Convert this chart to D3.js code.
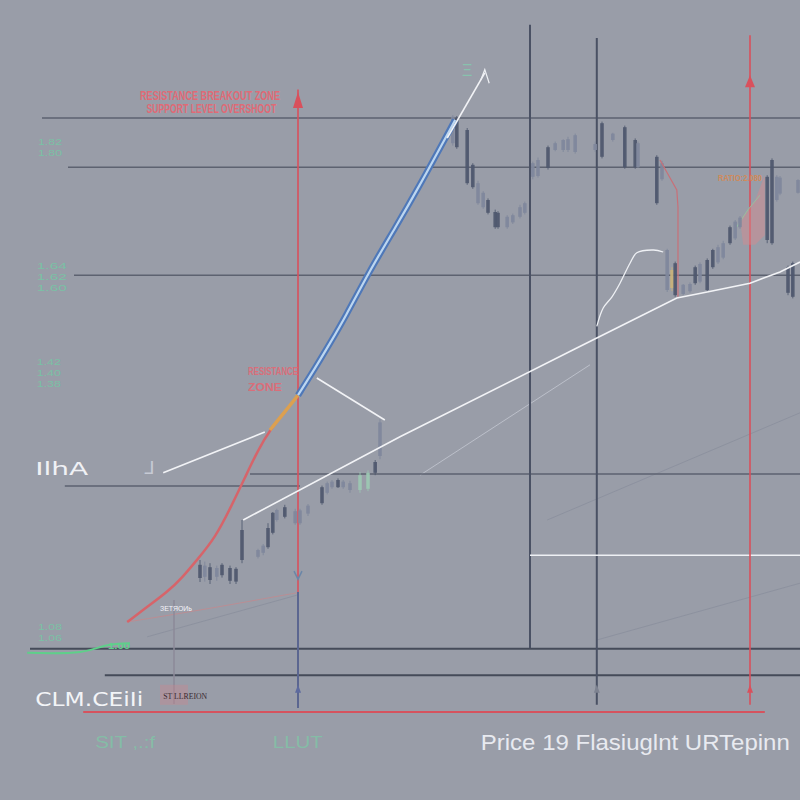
<!DOCTYPE html>
<html><head><meta charset="utf-8">
<script src="https://cdn.jsdelivr.net/npm/d3@7"></script>
<style>html,body{margin:0;padding:0;background:#999da8;}svg{display:block}</style>
</head><body>
<div id="chart"></div>
<script>
// ---- data (time index 0..100, price 0..100) ----
const curveT = [15.9, 18.75, 20.9, 22.75, 24.6, 26.9, 29.0, 30.6, 32.25, 33.75, 35.6, 37.25, 39.4, 41.25, 43.1, 46.25, 49.4, 52.5, 55.0, 56.9];
const curveP = [22.25, 24.4, 26.0, 27.75, 30.0, 32.75, 36.9, 40.25, 43.75, 46.25, 48.5, 50.6, 54.0, 57.1, 60.25, 66.25, 71.5, 76.9, 81.5, 85.0];

const candleT    = [25.0,25.6,26.25,27.1,27.75,28.75,29.5,30.25,32.25,32.9,33.5,34.1,34.6,35.6,36.9,37.5,38.5,40.25,40.9,41.5,42.25,42.9,43.75,45.0,46.0,46.9,47.5,
  56.6,57.1,58.4,59.1,59.75,60.4,61.0,61.9,62.25,63.4,64.1,65.0,65.6,66.6,67.25,68.5,69.4,70.4,71.0,71.9,74.4,75.25,76.6,78.1,79.4,79.75,82.1,82.75,
  83.4,84.0,84.4,85.4,86.25,86.9,87.5,88.4,89.1,89.75,90.4,91.25,91.9,92.5,95.9,96.5,97.1,97.5,98.5,99.1,99.75];
const candleHigh = [30.0,29.8,29.6,29.3,29.6,29.3,29.1,35.0,31.4,32.0,34.6,36.0,36.4,36.9,36.4,36.4,37.0,39.3,39.8,40.0,40.2,40.0,39.9,41.0,41.2,42.5,47.6,
  85.6,85.5,84.0,79.6,77.4,76.1,75.2,73.8,73.6,73.1,73.3,74.4,74.8,79.8,80.3,81.8,82.3,82.6,82.9,83.3,82.3,84.8,83.4,84.3,82.7,82.3,80.6,79.9,
  68.9,66.6,67.3,64.5,64.7,66.8,67.2,67.7,68.9,69.4,69.9,71.8,72.5,73.0,78.1,80.2,78.1,78.0,66.8,67.3,77.6];
const candleLow  = [27.25,27.3,27.0,27.4,27.8,27.0,27.0,29.6,30.2,30.6,31.4,33.2,34.8,35.2,34.4,34.4,35.5,36.9,38.2,38.9,39.0,38.9,38.4,38.4,38.6,40.6,42.6,
  81.8,81.4,76.9,76.4,74.4,73.9,73.2,71.4,71.4,71.4,72.0,72.7,73.2,77.6,77.8,78.8,81.1,81.0,81.0,80.8,81.0,80.2,82.3,78.9,78.9,79.0,74.4,77.4,
  63.5,63.6,62.9,63.1,63.4,64.4,64.6,63.6,66.4,67.0,67.6,69.4,70.0,71.4,69.6,69.4,74.8,75.6,63.1,62.7,75.8];
const candleTop  = [29.4,29.3,29.1,29.0,29.4,29.0,28.9,33.75,31.25,31.8,34.0,35.9,36.25,36.6,36.1,36.2,36.8,39.1,39.6,39.8,40.0,39.8,39.6,40.6,40.9,42.25,47.2,
  85.4,85.25,83.75,79.4,77.1,75.9,75.0,73.5,73.4,72.9,73.1,74.1,74.6,79.6,80.0,81.6,82.1,82.5,82.6,83.1,82.0,84.6,83.3,84.1,82.5,82.1,80.4,79.6,
  68.75,66.25,67.1,64.4,64.5,66.6,67.0,67.5,68.75,69.1,69.6,71.6,72.3,72.8,77.9,80.0,77.9,77.8,66.6,67.1,77.5];
const candleBot  = [27.75,27.9,27.5,27.9,28.1,27.4,27.3,30.0,30.4,30.9,31.6,33.4,35.0,35.4,34.6,34.6,35.8,37.1,38.4,39.1,39.1,39.1,38.75,38.75,38.9,40.9,43.0,
  82.1,81.6,77.1,76.6,74.6,74.1,73.4,71.6,71.6,71.6,72.2,72.9,73.4,77.9,78.0,79.0,81.25,81.25,81.25,81.0,81.25,80.4,82.5,79.1,79.1,79.1,74.6,77.6,
  63.75,64.0,63.1,63.25,63.6,64.6,64.8,63.75,66.6,67.2,67.8,69.6,70.2,71.6,70.0,69.6,75.0,75.8,63.4,62.9,75.9];
const candleKind = ["d","l","d","l","d","d","d","d","l","l","d","d","l","d","l","l","l","d","l","l","d","l","l","g","g","d","l",
  "l","d","d","d","l","l","d","d","d","l","l","l","l","l","l","d","l","l","l","l","l","d","l","d","d","l","d","l",
  "l","y","d","l","l","d","l","d","d","l","l","d","l","l","d","d","l","l","d","d","l"];

// horizontal levels (price) with start/end time
const hLevel = [85.25, 79.1, 65.6, 39.25, 40.75, 18.9, 15.6];
const hFrom  = [5.25, 8.5, 9.25, 8.1, 31.25, 3.75, 13.1];
const hTo    = [100, 100, 100, 37.5, 100, 100, 100];
const hKind  = ["n","n","n","n","n","b","b"];

// vertical markers (time) with price range
const vTime = [66.25, 74.6, 21.75];
const vFrom = [19.0, 11.9, 12.0];
const vTo   = [96.9, 95.25, 25.0];

const redHLevel = 11.0, redHFrom = 10.4, redHTo = 95.6;
const whiteHLevel = 30.6, whiteHFrom = 66.25, whiteHTo = 100;

// red arrow markers: line top, head tip, head base, line bottom
const arrowT = [37.25, 93.75];
const arrowTop = [88.8, 95.6];
const arrowTip = [88.5, 90.6];
const arrowBase = [86.5, 89.1];
const arrowBottom = [26, 11.9];

// trend lines
const trend1 = [[20.4,40.9],[33.1,46.0]];
const trend2 = [[30.4,35.0],[50,45.4],[71.6,56.25],[84.6,62.75],[88.4,63.5],[93.75,64.6],[97.5,66.0],[100,67.25]];
const trend3 = [[39.6,52.75],[48.1,47.5]];
const trend4 = [[55.9,82.75],[60.6,90.9]];
const squiggle = [[74.6,59.2],[75.4,61.5],[76.5,62.9],[77.5,64.6],[78.75,67.1],[79.6,68.4],[81.7,68.75],[82.9,68.5]];
const faint1 = [[52.5,40.6],[73.75,54.4]];
const faint2 = [[68.4,35.0],[100,48.4]];
const faint3 = [[74.6,20.0],[100,27.1]];
const faint4 = [[18.4,20.4],[37.1,25.6]];
const redFaint = [[15.9,22.25],[25,23.75],[37.1,25.9]];
const dropLine = [[82.5,80.0],[84.6,76.25],[84.75,74.1],[84.75,62.9]];
const greenLine = [[3.4,18.4],[10,18.5],[13.75,19.4],[16.25,19.6]];
const pinkArea = [[92.5,72.5],[94.4,75.0],[95.6,78.1],[95.6,70.6],[94.4,69.4],[92.9,69.4]];

// labels
const topRed = ["RESISTANCE BREAKOUT ZONE", "SUPPORT LEVEL OVERSHOOT"];
const midRed = ["RESISTANCE", "ZONE"];
const greenTicks = [["1.82","1.80"],["1.64","1.62","1.60"],["1.42","1.40","1.38"],["1.08","1.06"]];
const title = "Price 19 Flasiuglnt URTepinn";

// ---- drawing ----
const W = 800, H = 800;
const x = d3.scaleLinear().domain([0,100]).range([0,W]);
const y = d3.scaleLinear().domain([0,100]).range([H,0]);
const svg = d3.select("#chart").append("svg").attr("width",W).attr("height",H);
svg.append("rect").attr("width",W).attr("height",H).attr("fill","#999da8");

const line = d3.line().x(d=>x(d[0])).y(d=>y(d[1]));
const smooth = d3.line().x(d=>x(d[0])).y(d=>y(d[1])).curve(d3.curveCatmullRom);
const basis = d3.line().x(d=>x(d[0])).y(d=>y(d[1])).curve(d3.curveBasis);

// faint diagonals
[faint1, faint2, faint3, faint4].forEach((f,i)=>{
  svg.append("path").attr("d",line(f)).attr("fill","none")
    .attr("stroke", i===0 ? "#c4c8d2" : "#8a8f9c").attr("stroke-width",1).attr("opacity",0.8);
});
svg.append("path").attr("d",smooth(redFaint)).attr("fill","none").attr("stroke","#c9868a").attr("stroke-width",1).attr("opacity",0.7);

// horizontal grid levels
hLevel.forEach((p,i)=>{
  svg.append("line").attr("x1",x(hFrom[i])).attr("x2",x(hTo[i])).attr("y1",y(p)).attr("y2",y(p))
    .attr("stroke", hKind[i]==="b" ? "#454b59" : "#5d6270").attr("stroke-width", hKind[i]==="b" ? 2 : 1.5);
});
// vertical lines
vTime.forEach((t,i)=>{
  svg.append("line").attr("x1",x(t)).attr("x2",x(t)).attr("y1",y(vTo[i])).attr("y2",y(vFrom[i]))
    .attr("stroke", i===2 ? "#8d8a98" : "#4a5164").attr("stroke-width", i===2 ? 1.5 : 2);
});
// white horizontal
svg.append("line").attr("x1",x(whiteHFrom)).attr("x2",x(whiteHTo)).attr("y1",y(whiteHLevel)).attr("y2",y(whiteHLevel))
  .attr("stroke","#eef0f4").attr("stroke-width",1.5);

// red arrows
arrowT.forEach((t,i)=>{
  svg.append("line").attr("x1",x(t)).attr("x2",x(t)).attr("y1",y(arrowTop[i])).attr("y2",y(arrowBottom[i]))
    .attr("stroke","#d9505c").attr("stroke-width",1.6);
  const cx = x(t), ty = y(arrowTip[i]), by = y(arrowBase[i]);
  svg.append("path").attr("d",`M${cx},${ty} L${cx-5},${by} L${cx+5},${by} Z`).attr("fill","#d9505c");
});
// lower blue part of left marker
svg.append("line").attr("x1",x(arrowT[0])).attr("x2",x(arrowT[0])).attr("y1",y(26)).attr("y2",y(11.5))
  .attr("stroke","#5b6690").attr("stroke-width",2);
svg.append("path").attr("d",`M${x(arrowT[0])-4},${y(28.6)} L${x(arrowT[0])},${y(27.6)} L${x(arrowT[0])+4},${y(28.6)}`)
  .attr("fill","none").attr("stroke","#6a86a8").attr("stroke-width",1.5);
[[arrowT[0],"#5d6a9e"],[vTime[1],"#7d8290"],[arrowT[1],"#d9505c"]].forEach(([t,c])=>{
  svg.append("path").attr("d",`M${x(t)},${y(14.4)} L${x(t)-3},${y(13.4)} L${x(t)+3},${y(13.4)} Z`).attr("fill",c);
});
// red bottom line
svg.append("line").attr("x1",x(redHFrom)).attr("x2",x(redHTo)).attr("y1",y(redHLevel)).attr("y2",y(redHLevel))
  .attr("stroke","#d5535e").attr("stroke-width",2);

// pink area
svg.append("path").attr("d",line(pinkArea)+"Z").attr("fill","#d98a8e").attr("opacity",0.45);
svg.append("path").attr("d",line([[92.0,71.5],[93.5,73.8],[95.0,75.6]])).attr("fill","none").attr("stroke","#8fcba0").attr("stroke-width",1).attr("opacity",0.8);

// candles
const color = {d:"#4f586e", l:"#7f879c", g:"#9cc8b2", y:"#c9b37a"};
const bw = x(0.45)-x(0);
const cg = svg.append("g");
candleT.forEach((t,i)=>{
  cg.append("line").attr("x1",x(t)).attr("x2",x(t)).attr("y1",y(candleHigh[i])).attr("y2",y(candleLow[i]))
    .attr("stroke",color[candleKind[i]]).attr("stroke-width",1).attr("opacity",0.85);
  cg.append("rect").attr("x",x(t)-bw/2).attr("width",bw)
    .attr("y",y(candleTop[i])).attr("height",Math.max(1,y(candleBot[i])-y(candleTop[i])))
    .attr("fill",color[candleKind[i]]).attr("opacity",0.9);
});
// drop line red thin
svg.append("path").attr("d",line(dropLine)).attr("fill","none").attr("stroke","#c87078").attr("stroke-width",1.2);

// main rising curve
const pts = curveT.map((t,i)=>[t,curveP[i]]);
const redPart = pts.filter(d=>d[0]<=35.6);
const orPart = pts.filter(d=>d[0]>=33.75 && d[0]<=37.25);
const bluePart = pts.filter(d=>d[0]>=37.25);
svg.append("path").attr("d",basis(redPart)).attr("fill","none").attr("stroke","#d6646a").attr("stroke-width",2.5);
svg.append("path").attr("d",basis(orPart)).attr("fill","none").attr("stroke","#dca050").attr("stroke-width",3.5);
svg.append("path").attr("d",basis(bluePart)).attr("fill","none").attr("stroke","#4f78b8").attr("stroke-width",6.5);
svg.append("path").attr("d",basis(bluePart)).attr("fill","none").attr("stroke","#bcd6f0").attr("stroke-width",2.2);

// white trend lines
[trend1, trend2, trend3, trend4].forEach(tr=>{
  svg.append("path").attr("d",line(tr)).attr("fill","none").attr("stroke","#f2f3f6").attr("stroke-width",1.6);
});
svg.append("path").attr("d",smooth(squiggle)).attr("fill","none").attr("stroke","#eef0f4").attr("stroke-width",1.3);
svg.append("path").attr("d",`M${x(60.6)-4},${y(90.0)} L${x(60.6)},${y(91.3)} L${x(60.9)+2},${y(89.6)}`)
  .attr("fill","none").attr("stroke","#eef0f4").attr("stroke-width",1.2);

// ---- text ----
const font = "'Liberation Sans', Arial, sans-serif";
topRed.forEach((s,i)=>{
  svg.append("text").attr("x", x(i===0?17.5:18.3)).attr("y", y(i===0?87.5:85.9)).text(s)
    .attr("font-family",font).attr("font-weight","bold").attr("font-size",12)
    .attr("fill","#e06a76").attr("textLength", i===0?140:130).attr("lengthAdjust","spacingAndGlyphs");
});
midRed.forEach((s,i)=>{
  svg.append("text").attr("x", x(31)).attr("y", y(i===0?53.1:51.1)).text(s)
    .attr("font-family",font).attr("font-weight","bold").attr("font-size",10)
    .attr("fill","#e06a76").attr("opacity",0.9).attr("textLength", i===0?50:34).attr("lengthAdjust","spacingAndGlyphs");
});
const gPos = [[4.75,81.9],[4.6,66.4],[4.6,54.4],[4.75,21.25]];
greenTicks.forEach((arr,k)=>{
  arr.forEach((s,j)=>{
    svg.append("text").attr("x",x(gPos[k][0])).attr("y",y(gPos[k][1]) + j*11).text(s)
      .attr("font-family",font).attr("font-size",9).attr("fill","#6fd0a4").attr("opacity",0.7)
      .attr("textLength", k===1?30:24).attr("lengthAdjust","spacingAndGlyphs");
  });
});
svg.append("path").attr("d",smooth(greenLine)).attr("fill","none").attr("stroke","#5fcf8a").attr("stroke-width",2);
svg.append("text").attr("x",x(13.5)).attr("y",y(18.85)).text("1.00").attr("font-family",font).attr("font-weight","bold")
  .attr("font-size",9).attr("fill","#5fd08c").attr("textLength",22).attr("lengthAdjust","spacingAndGlyphs");

svg.append("text").attr("x",x(57.75)).attr("y",y(90.5)).text("Ξ").attr("font-family",font).attr("font-size",16)
  .attr("fill","#7fd6b0").attr("opacity",0.65);
svg.append("text").attr("x",x(4.4)).attr("y",y(40.6)).text("IlhA").attr("font-family","'DejaVu Sans', sans-serif")
  .attr("font-size",18).attr("fill","#f0f1f5").attr("textLength",53).attr("lengthAdjust","spacingAndGlyphs");
svg.append("text").attr("x",x(18.1)).attr("y",y(40.75)).text("⅃").attr("font-family","'DejaVu Sans', sans-serif")
  .attr("font-size",18).attr("fill","#c6cad4");
svg.append("text").attr("x",x(4.4)).attr("y",y(11.8)).text("CLM.CEiIi").attr("font-family","'DejaVu Sans', sans-serif")
  .attr("font-size",20).attr("fill","#f3f4f7").attr("textLength",108).attr("lengthAdjust","spacingAndGlyphs");
svg.append("rect").attr("x",x(20)).attr("y",y(14.4)).attr("width",28).attr("height",20).attr("fill","#d98088").attr("opacity",0.3);
svg.append("text").attr("x",x(20.4)).attr("y",y(12.6)).text("ST LLREION").attr("font-family","'Liberation Serif', serif")
  .attr("font-size",8).attr("fill","#3a2a30").attr("textLength",44).attr("lengthAdjust","spacingAndGlyphs");
svg.append("text").attr("x",x(20)).attr("y",y(23.6)).text("ЗЕТЯОИь").attr("font-family",font)
  .attr("font-size",7).attr("fill","#f4f4f8").attr("textLength",32).attr("lengthAdjust","spacingAndGlyphs");
svg.append("text").attr("x",x(89.75)).attr("y",y(77.4)).text("RATIO:2.080").attr("font-family",font).attr("font-weight","bold")
  .attr("font-size",9).attr("fill","#d08a5a").attr("textLength",44).attr("lengthAdjust","spacingAndGlyphs");
svg.append("text").attr("x",x(11.9)).attr("y",y(6.5)).text("SIT ,.:f").attr("font-family",font)
  .attr("font-size",16).attr("fill","#78d2a6").attr("opacity",0.6).attr("textLength",60).attr("lengthAdjust","spacingAndGlyphs");
svg.append("text").attr("x",x(34.1)).attr("y",y(6.5)).text("LLUT").attr("font-family",font)
  .attr("font-size",16).attr("fill","#78d2a6").attr("opacity",0.6).attr("textLength",50).attr("lengthAdjust","spacingAndGlyphs");
svg.append("text").attr("x",x(60.1)).attr("y",y(6.25)).text(title).attr("font-family",font)
  .attr("font-size",22).attr("fill","#e8eaf0").attr("textLength",309).attr("lengthAdjust","spacingAndGlyphs");
</script>
</body></html>
